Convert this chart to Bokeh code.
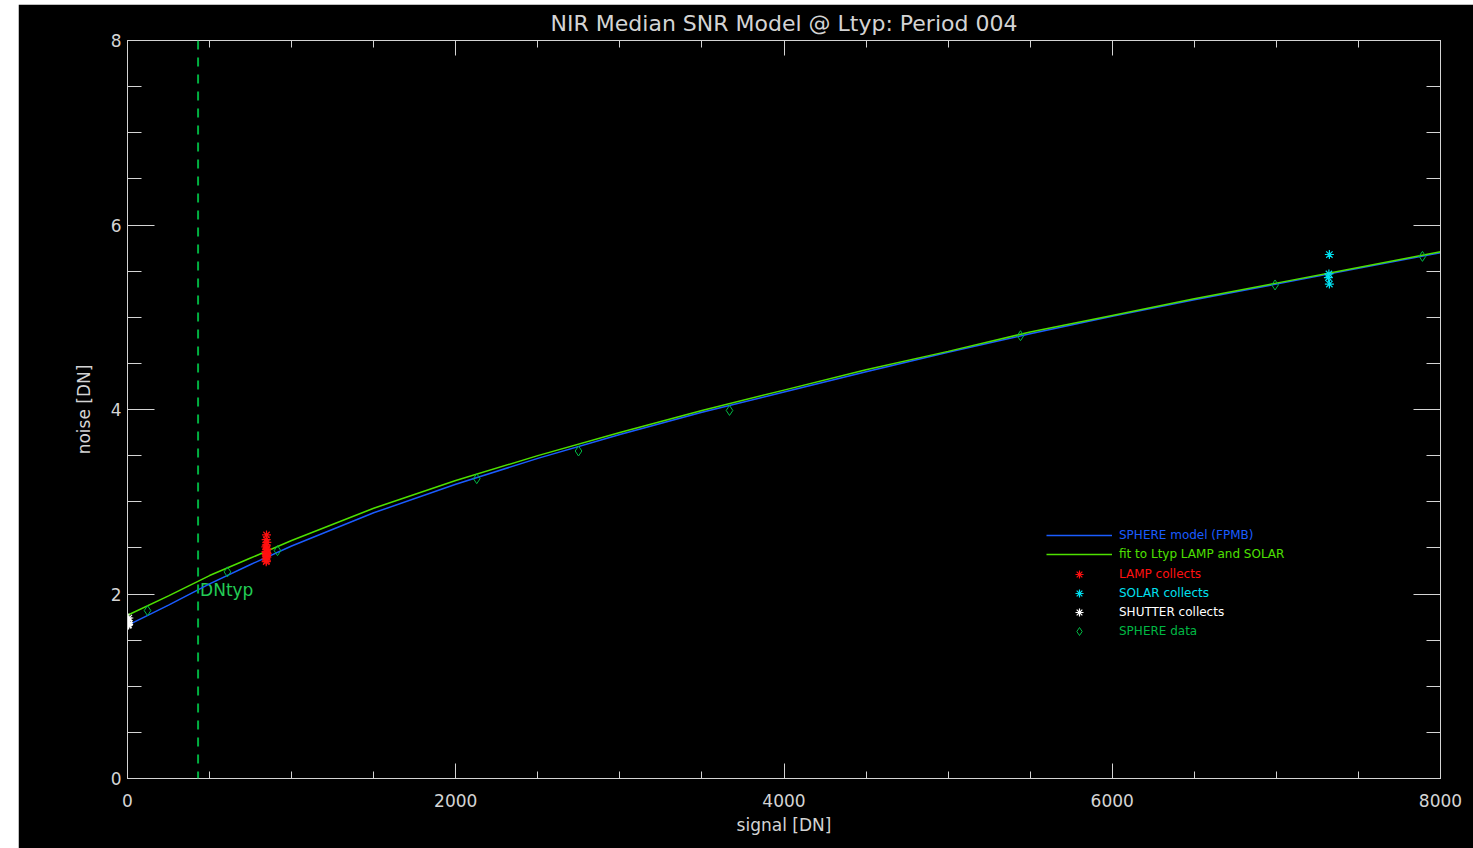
from bokeh.plotting import figure
from bokeh.models import (Range1d, FixedTicker, LinearAxis, Legend, LegendItem, Span, Spacer)
from bokeh.layouts import row, column
from bokeh.core.properties import value
from bokeh.embed import file_html
from bokeh.resources import INLINE

# ---------------- data ----------------
signal_grid = [0, 250, 500, 750, 1000, 1500, 2000, 2500, 3000, 3500, 4000,
               4500, 5000, 5500, 6000, 6500, 7000, 7500, 8000]
model_noise = [1.66, 1.88, 2.11, 2.32, 2.52, 2.88, 3.19, 3.47, 3.73, 3.97, 4.19,
               4.41, 4.62, 4.82, 5.01, 5.19, 5.36, 5.53, 5.70]
fit_noise = [1.77, 1.98, 2.20, 2.39, 2.58, 2.93, 3.23, 3.50, 3.75, 3.99, 4.21,
             4.43, 4.63, 4.84, 5.02, 5.20, 5.37, 5.54, 5.71]

sphere_signal = [122, 609, 914, 2128, 2748, 3668, 5441, 6992, 7890]
sphere_noise = [1.82, 2.24, 2.47, 3.25, 3.55, 3.99, 4.80, 5.35, 5.66]

lamp_signal = [847, 845, 849, 846, 843, 850, 848, 844, 847, 851, 845, 848,
               846, 849, 844, 847, 845]
lamp_noise = [2.64, 2.59, 2.56, 2.53, 2.51, 2.49, 2.48, 2.46, 2.45, 2.44, 2.43,
              2.42, 2.41, 2.40, 2.38, 2.36, 2.35]

solar_signal = [7323, 7320, 7317, 7323]
solar_noise = [5.68, 5.47, 5.43, 5.36]

shutter_signal = [8, 6, 5, 7, 4]
shutter_noise = [1.74, 1.71, 1.69, 1.67, 1.66]

dn_typ = 430
dn_typ_label_y = 2.0

x_major = [0, 2000, 4000, 6000, 8000]
x_minor = [v for v in range(0, 8001, 500)]
y_major = [0, 2, 4, 6, 8]
y_minor = [i * 0.5 for i in range(0, 17)]

title_text = "NIR Median SNR Model @ Ltyp: Period 004"

# ---------------- style ----------------
FONT = "DejaVu Sans"
FG = "#d4d4d4"
BLUE = "#1a5cff"
LIME = "#4ee000"
GREEN = "#00b844"
DASHGREEN = "#00b040"
RED = "#ff1010"
CYAN = "#00e0f0"
WHITE = "#ffffff"

p = figure(width=1455, height=844,
           x_range=Range1d(0, 8000), y_range=Range1d(0, 8),
           output_backend="svg", toolbar_location=None,
           background_fill_color="black", border_fill_color="black",
           min_border_left=109, min_border_right=33,
           min_border_top=36, min_border_bottom=70,
           x_axis_label="signal [DN]", y_axis_label="noise [DN]",
           title=title_text)
p.grid.visible = False
p.outline_line_color = FG
p.outline_line_width = 1

p.title.align = "center"
p.title.text_color = FG
p.title.text_font = FONT
p.title.text_font_style = "normal"
p.title.text_font_size = "22px"
p.title.standoff = 9

xt = FixedTicker(ticks=x_major, minor_ticks=x_minor)
yt = FixedTicker(ticks=y_major, minor_ticks=y_minor)


def style_axis(ax, tin, mtin):
    ax.axis_line_color = FG
    ax.major_tick_line_color = FG
    ax.minor_tick_line_color = FG
    ax.major_tick_in = tin
    ax.major_tick_out = 0
    ax.minor_tick_in = mtin
    ax.minor_tick_out = 0
    ax.major_label_text_color = FG
    ax.major_label_text_font = FONT
    ax.major_label_text_font_size = "17px"
    ax.axis_label_text_color = FG
    ax.axis_label_text_font = FONT
    ax.axis_label_text_font_size = "17px"
    ax.axis_label_text_font_style = "normal"


xa = p.xaxis[0]
xa.ticker = xt
style_axis(xa, 15, 7)
xa.major_label_standoff = 15
xa.axis_label_standoff = 5

ya = p.yaxis[0]
ya.ticker = yt
style_axis(ya, 27, 14)
ya.major_label_standoff = 6
ya.axis_label_standoff = 14
ya.major_label_orientation = "horizontal"

# box axes on top and right: ticks only, no labels
top = LinearAxis(ticker=xt)
style_axis(top, 15, 7)
top.major_label_text_font_size = "1px"
top.major_label_overrides = {v: "" for v in x_major}
top.major_label_standoff = 0
p.add_layout(top, "above")

right = LinearAxis(ticker=yt)
style_axis(right, 27, 14)
right.major_label_text_font_size = "1px"
right.major_label_overrides = {v: "" for v in y_major}
right.major_label_standoff = 0
p.add_layout(right, "right")

# DNtyp marker
p.add_layout(Span(location=dn_typ, dimension="height", line_color=DASHGREEN,
                  line_dash="9 8", line_width=2))
p.text(x=[dn_typ], y=[dn_typ_label_y], text=["DNtyp"], x_offset=2, y_offset=-4,
       text_align="left", text_baseline="middle",
       text_font=value(FONT), text_font_size="17px", text_color="#22cc55")

# curves
r_model = p.line(signal_grid, model_noise, line_color=BLUE, line_width=1.5)
r_fit = p.line(signal_grid, fit_noise, line_color=LIME, line_width=1.5)

# points
r_sphere = p.scatter(sphere_signal, sphere_noise, marker="diamond",
                     size=10, line_color=GREEN, fill_color=None, line_width=1)
r_lamp = p.scatter(lamp_signal, lamp_noise, marker="asterisk", size=9,
                   line_color=RED, line_width=1.2)
r_solar = p.scatter(solar_signal, solar_noise, marker="asterisk", size=9,
                    line_color=CYAN, line_width=1.2)
r_shutter = p.scatter(shutter_signal, shutter_noise, marker="asterisk", size=9,
                      line_color=WHITE, line_width=1.2)

# legend: one entry per colour so that each text takes its series colour
entries = [("SPHERE model (FPMB)", r_model, BLUE),
           ("fit to Ltyp LAMP and SOLAR", r_fit, LIME),
           ("LAMP collects", r_lamp, RED),
           ("SOLAR collects", r_solar, CYAN),
           ("SHUTTER collects", r_shutter, WHITE),
           ("SPHERE data", r_sphere, GREEN)]
row_centers = [535, 554, 573.5, 593, 612, 631]
for (label, rend, col), cy in zip(entries, row_centers):
    lg = Legend(items=[LegendItem(label=label, renderers=[rend])],
                location=(1046 - 127, 768 - cy),
                glyph_width=66, glyph_height=20, label_height=20,
                label_standoff=7, padding=0, margin=0, spacing=0,
                border_line_color=None, background_fill_alpha=0,
                label_text_color=col, label_text_font=FONT,
                label_text_font_size="12px")
    p.add_layout(lg, "center")

layout = row(Spacer(width=18, height=848),
             column(Spacer(width=1455, height=4), p))

open("out.html", "w").write(file_html(layout, INLINE))
